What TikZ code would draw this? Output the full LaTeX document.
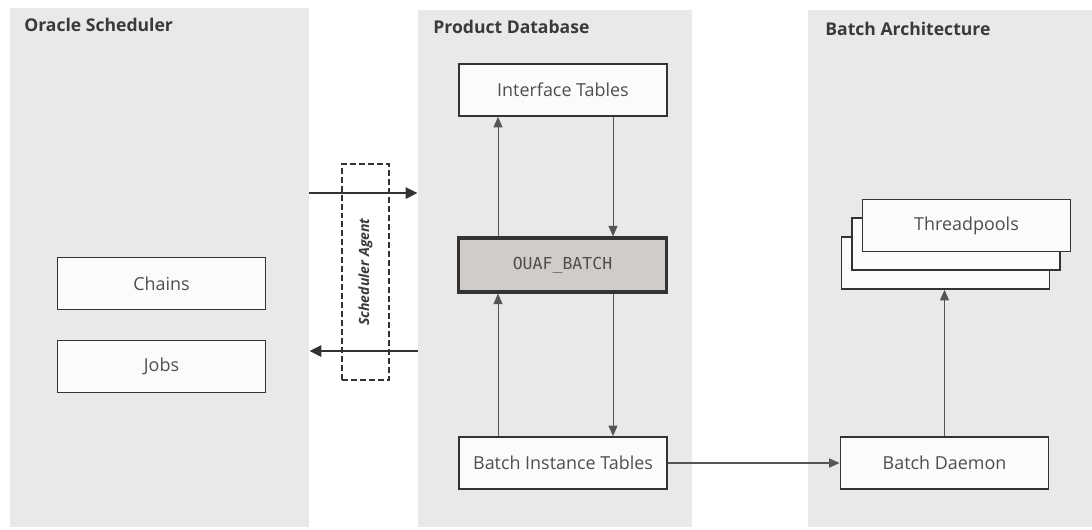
\documentclass[tikz,border=0pt]{standalone}
\usepackage{fontspec}
\setmainfont{Open Sans}
\setmonofont{DejaVu Sans Mono}
\usetikzlibrary{arrows.meta,positioning}
\definecolor{panelgray}{HTML}{EAE9E7}
\definecolor{boxfill}{HTML}{FCFBFA}
\definecolor{boxline}{HTML}{333333}
\definecolor{txtgray}{HTML}{3A3A3A}
\definecolor{corefill}{HTML}{D0CCC9}
\definecolor{flowgray}{HTML}{555555}

\begin{document}
\begin{tikzpicture}[x=0.02cm,y=-0.02cm]
        \tikzset{panel/.style={fill=panelgray, draw=none, inner sep=0pt},
                 title/.style={anchor=west, inner sep=0pt, text=txtgray, font=\fontsize{10}{12}\selectfont\bfseries},
                 box/.style={draw=boxline, fill=boxfill, line width=1pt, inner sep=0pt,
                             minimum width=4.16cm, minimum height=1.04cm, text=txtgray!90,
                             font=\fontsize{10.2}{12}\selectfont},
                 flow/.style={draw=flowgray, line width=0.5pt, -{Triangle[length=2.1mm, width=1.8mm]}},
                 agentflow/.style={draw=boxline, line width=1.5pt, -{Triangle[length=2.4mm, width=2.2mm]}}}
        \useasboundingbox[fill=white] (0,0) rectangle (1092,529);

        % the three columns
        \node[panel, minimum width=5.98cm, minimum height=10.38cm] (oracle) at (159.5,267.5) {};
        \node[panel, minimum width=5.48cm, minimum height=10.34cm] (prod) at (555,268.5) {};
        \node[panel, minimum width=5.68cm, minimum height=10.34cm] (batch) at (950,268.5) {};
        \node[title] at (24,25) {Oracle Scheduler};
        \node[title] at (433,27) {Product Database};
        \node[title] at (825,29) {Batch Architecture};

        % Oracle Scheduler
        \node[box] (chains) at (161.5,283.5) {Chains};
        \node[box] (jobs) at (161.5,366.5) {Jobs};

        % Product Database
        \node[box] (iface) at (563,90) {Interface Tables};
        \node[box, fill=corefill, line width=1.8pt, minimum height=1.08cm,
              font=\fontsize{9.4}{11}\ttfamily] (ouaf) at (562.5,265) {OUAF\_BATCH};
        \node[box] (inst) at (563,463) {Batch Instance Tables};

        % Batch Architecture
        \node[box] (poolc) at (945.5,263) {};
        \node[box] (poolb) at (956,244) {};
        \node[box] (poola) at (966.5,225.5) {Threadpools};
        \node[box] (daemon) at (944.5,463) {Batch Daemon};

        % scheduler agent
        \node[draw=boxline, line width=1.2pt, dash pattern=on 3.4pt off 1.7pt, inner sep=0pt,
              minimum width=0.94cm, minimum height=4.32cm] (agent) at (365.5,272) {};
        \node[rotate=90, text=txtgray, font=\fontsize{8}{9}\selectfont\bfseries\itshape]
              at (agent.center) {Scheduler Agent};

        \coordinate (upr) at (0,193);
        \coordinate (lwr) at (0,351);
        \coordinate (lx) at (498,0);
        \coordinate (rx) at (613,0);

        \draw[agentflow] (oracle.east |- upr) -- (prod.west |- upr);
        \draw[agentflow] (prod.west |- lwr) -- (oracle.east |- lwr);

        \draw[flow] (ouaf.north -| lx) -- (iface.south -| lx);
        \draw[flow] (iface.south -| rx) -- (ouaf.north -| rx);
        \draw[flow] (inst.north -| lx) -- (ouaf.south -| lx);
        \draw[flow] (ouaf.south -| rx) -- (inst.north -| rx);
        \draw[flow, line width=0.9pt] (inst.east) -- (daemon.west);
        \draw[flow] (daemon.north) -- (daemon.north |- poolc.south);
\end{tikzpicture}
\end{document}
